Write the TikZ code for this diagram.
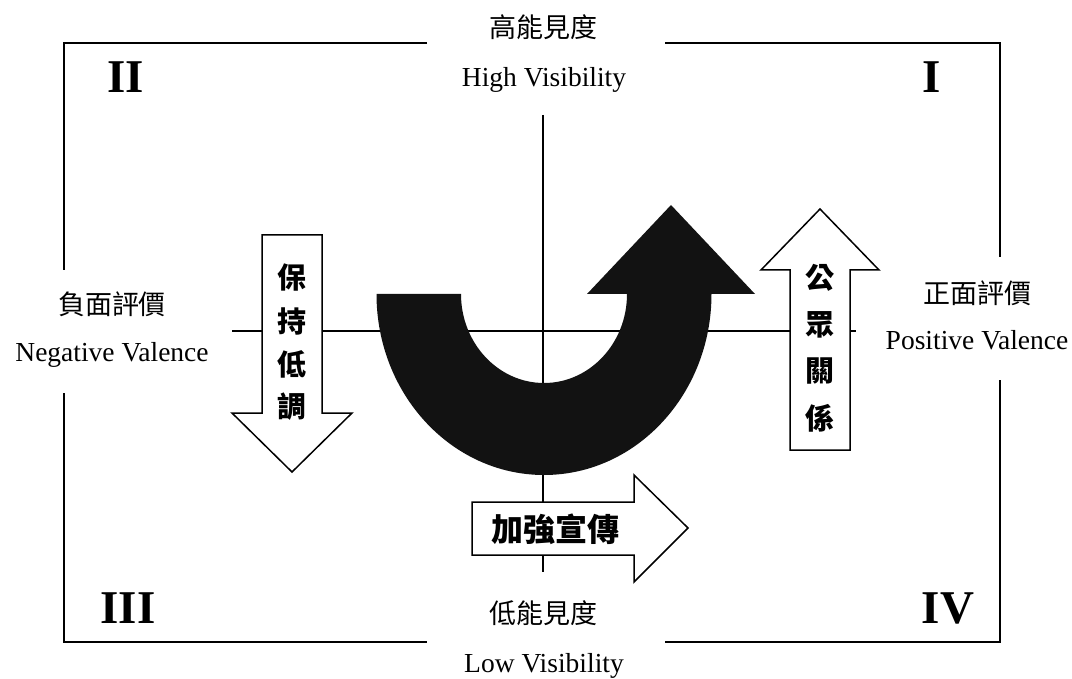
\documentclass[tikz,border=0pt]{standalone}
\usepackage{fontspec}
\setmainfont{Liberation Serif}
\newfontfamily\cjk{Noto Sans CJK TC}
\begin{document}
\begin{tikzpicture}[x=1pt,y=-1pt,
  border/.style={line width=1.8pt},
  axis/.style={line width=1.4pt},
  hollow/.style={draw=black,fill=white,line width=1.5pt,line join=miter},
  solidarrow/.style={fill=black!93,draw=none},
  roman/.style={font=\fontsize{47}{50}\selectfont\bfseries,anchor=base},
  entext/.style={font=\fontsize{27.5}{30}\selectfont,anchor=base},
  zhtext/.style={font=\cjk\fontsize{27}{30}\selectfont,anchor=center},
  zhbold/.style={font=\cjk\bfseries\fontsize{29}{32}\selectfont,anchor=center,inner sep=0pt}]
\useasboundingbox (0,0) rectangle (1072,679);
% border corners and gap ends
\coordinate (TL) at (64,43);
\coordinate (TR) at (1000,43);
\coordinate (BL) at (64,642);
\coordinate (BR) at (1000,642);
\coordinate (t1) at (427,43);
\coordinate (t2) at (665,43);
\coordinate (b1) at (427,642);
\coordinate (b2) at (665,642);
\coordinate (l1) at (64,270);
\coordinate (l2) at (64,393);
\coordinate (r1) at (1000,257);
\coordinate (r2) at (1000,380);
\draw[border] (t1) -- (TL) -- (l1);
\draw[border] (l2) -- (BL) -- (b1);
\draw[border] (b2) -- (BR) -- (r2);
\draw[border] (r1) -- (TR) -- (t2);
% axes
\coordinate (vtop) at (543,115);
\coordinate (vbot) at (543,572);
\coordinate (hl) at (232,331);
\coordinate (hr) at (856,331);
\draw[axis] (vtop) -- (vbot);
\draw[axis] (hl) -- (hr);
% labels
\node[zhtext] (hv) at (543,27) {高能見度};
\node[entext] (hve) at (544,87) {High Visibility};
\node[zhtext] (lv) at (543,613) {低能見度};
\node[entext] (lve) at (544,672) {Low Visibility};
\node[zhtext] (nv) at (112,304) {負面評價};
\node[entext] (nve) at (112,362) {Negative Valence};
\node[zhtext] (pv) at (977,293) {正面評價};
\node[entext] (pve) at (977,350) {Positive Valence};
\node[roman] (q2) at (126,93) {II};
\node[roman] (q1) at (932,93) {I};
\node[roman] (q3) at (128,623) {III};
\node[roman] (q4) at (948,623) {IV};
% U-turn black arrow
\fill[solidarrow] (461,294) arc[start angle=180,end angle=0,x radius=83,y radius=89]
  -- (587,294) -- (671,205) -- (755,294) -- (711.5,294)
  arc[start angle=0,end angle=180,x radius=167.5,y radius=181] -- cycle;
% keep low arrow (down)
\draw[hollow] (262,235) -- (322,235) -- (322,413) -- (352,413) -- (292,472)
  -- (232,413) -- (262,413) -- cycle;
\node[zhbold] (k1) at (292,278) {保};
\node[zhbold] (k2) at (292,321) {持};
\node[zhbold] (k3) at (292,364) {低};
\node[zhbold] (k4) at (292,407) {調};
% public relations arrow (up)
\draw[hollow] (790,450) -- (850,450) -- (850,270) -- (879,270) -- (820,209)
  -- (761,270) -- (790,270) -- cycle;
\node[zhbold] (p1) at (820,278) {公};
\node[zhbold] (p2) at (820,325) {眾};
\node[zhbold] (p3) at (820,371) {關};
\node[zhbold] (p4) at (820,418) {係};
% publicity arrow (right)
\draw[hollow] (472,502) -- (634,502) -- (634,475) -- (688,528) -- (634,582)
  -- (634,555) -- (472,555) -- cycle;
\node[zhbold,font=\cjk\bfseries\fontsize{32}{34}\selectfont] (ad) at (555,529) {加強宣傳};
\end{tikzpicture}
\end{document}
